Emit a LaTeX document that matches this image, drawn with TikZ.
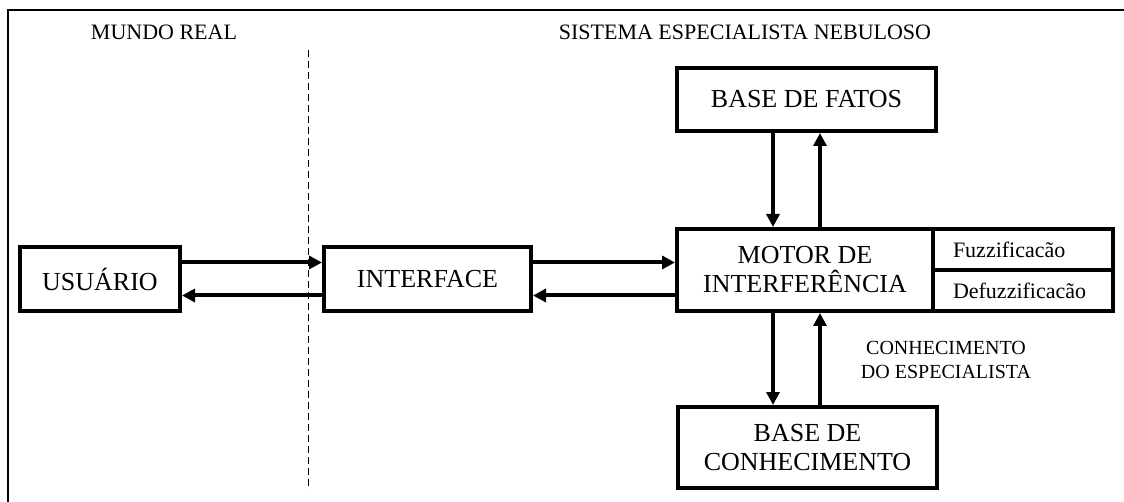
\documentclass[tikz,border=0pt]{standalone}
\usepackage{fontspec}
\setmainfont{Liberation Serif}
\usetikzlibrary{arrows.meta}
\begin{document}
\begin{tikzpicture}[x=1pt,y=-1pt,
  box/.style={draw,line width=4pt,rectangle,inner sep=0pt,align=center,
    font=\fontsize{26}{29}\selectfont},
  subbox/.style={draw,line width=4pt,rectangle,inner ysep=0pt,inner xsep=20pt,
    outer sep=0pt,text width=140pt,minimum height=41pt,align=left,
    font=\fontsize{22}{24}\selectfont},
  title/.style={font=\fontsize{22}{24}\selectfont,inner sep=0pt},
  arr/.style={line width=4pt,-{Triangle[length=13pt,width=13pt]}}]
\useasboundingbox (0,0) rectangle (1124,502);
% frame
\draw[line width=2pt] (8,502) -- (8,10) -- (1124,10);
% section titles and divider
\node[title] (mundo) at (164,32) {MUNDO REAL};
\node[title] (sistema) at (745,32) {SISTEMA ESPECIALISTA NEBULOSO};
\coordinate (divtop) at (308,50);
\coordinate (divbot) at (308,490);
\draw[line width=1pt,dash pattern=on 7pt off 4pt] (divtop) -- (divbot);
% blocks
\node[box,minimum width=160pt,minimum height=64pt] (usuario) at (100,279) {USUÁRIO};
\node[box,minimum width=207pt,minimum height=64pt] (interface) at (427.5,279) {INTERFACE};
\node[box,minimum width=256pt,minimum height=82pt] (motor) at (805,270) {MOTOR DE\\INTERFERÊNCIA};
\node[subbox,anchor=south west] (fuzz) at ([xshift=-2pt]motor.east) {Fuzzificacão};
\node[subbox,anchor=north west] (defuzz) at ([xshift=-2pt]motor.east) {Defuzzificacão};
\node[box,minimum width=259pt,minimum height=63pt] (fatos) at (806.5,99.5) {BASE DE FATOS};
\node[box,minimum width=259pt,minimum height=81pt] (conhec) at (807.5,447.5) {BASE DE\\CONHECIMENTO};
\node[font=\fontsize{20}{24}\selectfont,align=center,inner sep=0pt] (espec) at (946,360) {CONHECIMENTO\\DO ESPECIALISTA};
% horizontal links
\coordinate (u1) at ([yshift=16.5pt]usuario.east);
\coordinate (u2) at ([yshift=-16.5pt]usuario.east);
\coordinate (i1) at ([yshift=16.5pt]interface.east);
\coordinate (i2) at ([yshift=-16.5pt]interface.east);
\draw[arr] (u1) -- (u1 -| interface.west);
\draw[arr] (u2 -| interface.west) -- (u2);
\draw[arr] (i1) -- (i1 -| motor.west);
\draw[arr] (i2 -| motor.west) -- (i2);
% vertical links
\coordinate (f1) at ([xshift=-33.5pt]fatos.south);
\coordinate (f2) at ([xshift=13.5pt]fatos.south);
\coordinate (k1) at ([xshift=-34.5pt]conhec.north);
\coordinate (k2) at ([xshift=12.5pt]conhec.north);
\draw[arr] (f1) -- (f1 |- motor.north);
\draw[arr] (f2 |- motor.north) -- (f2);
\draw[arr] (k1 |- motor.south) -- (k1);
\draw[arr] (k2) -- (k2 |- motor.south);
\end{tikzpicture}
\end{document}
